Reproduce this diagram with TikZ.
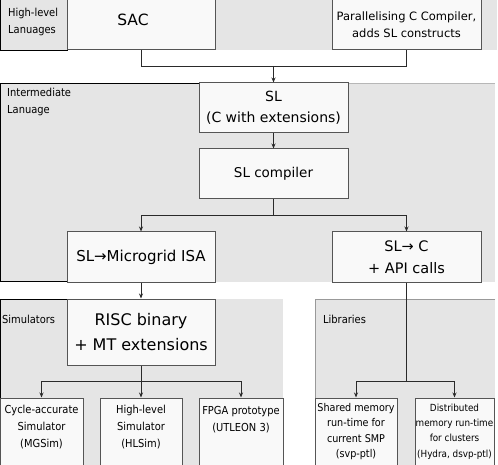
\documentclass[tikz,border=0pt]{standalone}
\usepackage{fontspec}
\setmainfont{DejaVu Sans}
\newfontfamily\condf{DejaVu Sans Condensed}
\usetikzlibrary{arrows.meta}
\definecolor{band}{HTML}{E5E5E5}
\definecolor{boxfill}{HTML}{F9F9F9}
\definecolor{boxline}{HTML}{555555}
\definecolor{conn}{HTML}{2A2A2A}
\tikzset{
  box/.style={draw=boxline, fill=boxfill, line width=1pt, inner sep=0pt, align=center},
  conline/.style={draw=conn, line width=0.9pt},
  arr/.style={conline, -{Stealth[length=5pt,width=4pt]}},
  lbl/.style={inner sep=0pt, anchor=west, align=left, font=\condf\fontsize{11}{16.5}\selectfont},
  leaf/.style={box, font=\condf\fontsize{11}{17}\selectfont},
}
\begin{document}
\begin{tikzpicture}[x=1pt,y=-1pt]
\useasboundingbox (0,0) rectangle (498,465);
% bands
\fill[band] (0,0) rectangle (497,50);
\draw[black, line width=0.8pt] (0.5,0) -- (0.5,50) -- (67,50) -- (67,0);
\fill[band] (0,83) rectangle (495,282);
\draw[black, line width=1pt] (199,83.5) -- (0.5,83.5) -- (0.5,281.5) -- (67,281.5);
\draw[band!80!black, line width=0.8pt] (348,83.5) -- (495,83.5);
\fill[band] (0,299) rectangle (283,465);
\draw[black, line width=1pt] (67,299.5) -- (0.5,299.5) -- (0.5,465);
\fill[band] (315,299) rectangle (495,465);
\draw[gray!80, line width=0.8pt] (495,299.5) -- (315.5,299.5) -- (315.5,465);
% band labels
\node[lbl] (lHL) at (8,22) {High-level\\Lanuages};
\node[lbl] (lIL) at (7,102) {Intermediate\\Lanuage};
\node[lbl] (lSim) at (2,319) {Simulators};
\node[lbl] (lLib) at (323,319) {Libraries};
% boxes
\node[box, minimum width=148pt, minimum height=50pt] (sac) at (141,25) {};
\node[inner sep=0pt, font=\fontsize{15.5}{18}\selectfont] (sact) at (133,20) {SAC};
\node[box, minimum width=149pt, minimum height=50pt, font=\fontsize{11.5}{17}\selectfont] (pcc) at (406.5,25) {Parallelising C Compiler,\\adds SL constructs};
\node[box, minimum width=149pt, minimum height=50pt, font=\fontsize{14}{21}\selectfont] (sl) at (273.5,108) {SL\\(C with extensions)};
\node[box, minimum width=149pt, minimum height=50pt, font=\fontsize{13.5}{16}\selectfont, text depth=4pt] (slc) at (273.5,174) {SL compiler};
\node[box, minimum width=148pt, minimum height=50pt, font=\fontsize{15}{18}\selectfont] (mg) at (141,257) {SL→Microgrid ISA};
\node[box, minimum width=149pt, minimum height=50pt, font=\fontsize{14.5}{22}\selectfont] (slC) at (406.5,257) {SL→ C\\+ API calls};
\node[box, minimum width=148pt, minimum height=66pt, font=\fontsize{16}{25}\selectfont] (risc) at (141,332) {RISC binary\\+ MT extensions};
\node[leaf, minimum width=83pt, minimum height=67pt, text depth=10pt] (cyc) at (41.5,431.5) {Cycle-accurate\\Simulator\\(MGSim)};
\node[leaf, minimum width=82pt, minimum height=67pt, text depth=10pt] (hls) at (141,431.5) {High-level\\Simulator\\(HLSim)};
\node[leaf, minimum width=84pt, minimum height=67pt, text depth=26pt] (fpga) at (241,431.5) {FPGA prototype\\(UTLEON 3)};
\node[leaf, minimum width=82pt, minimum height=67pt, font=\condf\fontsize{10.7}{15.3}\selectfont] (shm) at (356,431.5) {Shared memory\\run-time for\\current SMP\\(svp-ptl)};
\node[leaf, minimum width=79pt, minimum height=67pt, font=\condf\fontsize{9.8}{15.3}\selectfont] (dist) at (454.5,431.5) {Distributed\\memory run-time\\for clusters\\(Hydra, dsvp-ptl)};
% junctions
\coordinate (j1) at (273.5,66);
\coordinate (j2) at (273.5,215);
\coordinate (j3) at (141,381);
\coordinate (j4) at (406.5,381);
% connectors
\draw[conline] (sac.south) |- (j1);
\draw[conline] (pcc.south) |- (j1);
\draw[arr] (j1) -- (sl.north);
\draw[arr] (sl.south) -- (slc.north);
\draw[conline] (slc.south) -- (j2);
\draw[arr] (j2) -| (mg.north);
\draw[arr] (j2) -| (slC.north);
\draw[arr] (mg.south) -- (risc.north);
\draw[conline] (risc.south) -- (j3);
\draw[arr] (j3) -| (cyc.north);
\draw[arr] (j3) -- (hls.north);
\draw[arr] (j3) -| (fpga.north);
\draw[conline] (slC.south) -- (j4);
\draw[arr] (j4) -| (shm.north);
\draw[arr] (j4) -| (dist.north);
\end{tikzpicture}
\end{document}
